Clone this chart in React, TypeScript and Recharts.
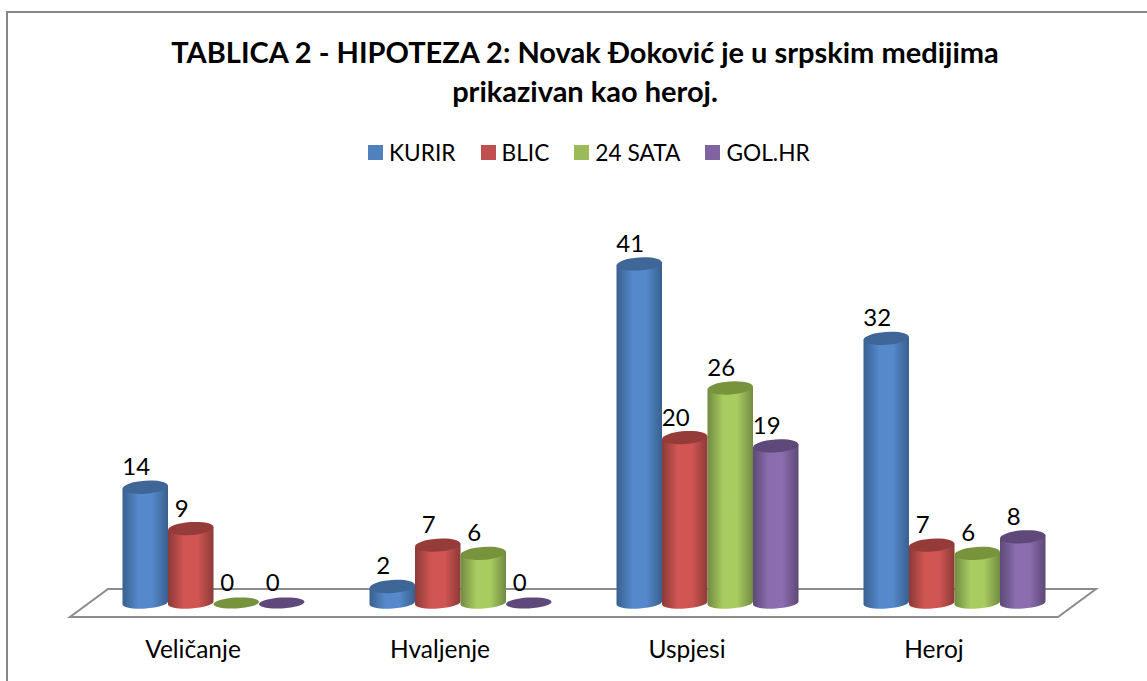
import { BarChart, Bar, XAxis, YAxis, Legend, LabelList } from "recharts";

const categories = ["Veličanje", "Hvaljenje", "Uspjesi", "Heroj"];
const kurir = [14, 2, 41, 32];
const blic = [9, 7, 20, 7];
const sata24 = [0, 6, 26, 6];
const golHr = [0, 0, 19, 8];

const data = categories.map((name, i) => ({
    name,
    KURIR: kurir[i],
    BLIC: blic[i],
    "24 SATA": sata24[i],
    "GOL.HR": golHr[i],
}));

const FONT = "Lato, 'Open Sans', sans-serif";

const series = [
    { key: "KURIR", id: "blue", fill: "#4f81bd", edge: "#38608f", mid: "#5589cb", top: "#3e6797" },
    { key: "BLIC", id: "red", fill: "#c0504d", edge: "#8c3a38", mid: "#d15653", top: "#953c3a" },
    { key: "24 SATA", id: "green", fill: "#9bbb59", edge: "#728a42", mid: "#a9cc61", top: "#77933c" },
    { key: "GOL.HR", id: "purple", fill: "#8064a2", edge: "#5d4976", mid: "#8b6db0", top: "#5f497a" },
];

function Cylinder(props: any) {
    const { x, y, width, height, id, top } = props;
    const rx = width / 2;
    const d = 1.6;
    const cx = x + rx;
    if (!height) {
        return <ellipse cx={cx} cy={y} rx={rx} ry={5.5} fill={top} transform={`rotate(-3 ${cx} ${y})`} />;
    }
    const bottom = y + height;
    return (
        <g>
            <path
                d={`M${x} ${y + d} L${x} ${bottom + d} A${rx} 5.5 -4 0 0 ${x + width} ${bottom - d} L${x + width} ${y - d} Z`}
                fill={`url(#cyl-${id})`}
            />
            <ellipse cx={cx} cy={y} rx={rx} ry={6.5} fill={top} transform={`rotate(-4 ${cx} ${y})`} />
        </g>
    );
}

function ValueLabel(props: any) {
    const { x, y, width, value } = props;
    return (
        <text x={x + width / 2 - 9} y={y - 12} textAnchor="middle" fontSize={24} fontFamily={FONT} fill="#000">
            {value}
        </text>
    );
}

function LegendRow(props: any) {
    return (
        <div style={{ display: "flex", alignItems: "center", fontFamily: FONT, fontSize: 22.7, color: "#000", whiteSpace: "nowrap" }}>
            {props.payload.map((entry: any) => (
                <div key={entry.value} style={{ display: "flex", alignItems: "center", marginRight: 25 }}>
                    <span style={{ width: 15, height: 15, background: entry.color, marginRight: 6 }} />
                    {entry.value}
                </div>
            ))}
        </div>
    );
}

export default function App() {
    return (
        <div style={{ position: "absolute", left: 0, top: 0, width: 1147, height: 681, overflow: "hidden", background: "#fff" }}>
            <BarChart
                width={1147}
                height={681}
                data={data}
                barSize={45.5}
                barGap={0}
                margin={{ top: 162.5, right: 69.5, bottom: 0, left: 89.5 }}
            >
                <defs>
                    {series.map((s) => (
                        <linearGradient key={s.id} id={`cyl-${s.id}`} x1="0" y1="0" x2="1" y2="0">
                            <stop offset="0%" stopColor={s.edge} />
                            <stop offset="35%" stopColor={s.mid} />
                            <stop offset="65%" stopColor={s.mid} />
                            <stop offset="100%" stopColor={s.edge} />
                        </linearGradient>
                    ))}
                </defs>
                <path d="M7 720 L7 12 L1147 12" fill="none" stroke="#868686" strokeWidth={2} />
                <polygon points="70,617 1058,617 1096,589 108,589" fill="#fff" stroke="#8c8c8c" strokeWidth={2} />
                <text x={585} y={63} textAnchor="middle" fontSize={29} fontWeight={700} fontFamily={FONT} fill="#000">
                    TABLICA 2 - HIPOTEZA 2: Novak Đoković je u srpskim medijima
                </text>
                <text x={585} y={102} textAnchor="middle" fontSize={29} fontWeight={700} fontFamily={FONT} fill="#000">
                    prikazivan kao heroj.
                </text>
                <XAxis
                    dataKey="name"
                    height={78}
                    axisLine={false}
                    tickLine={false}
                    interval={0}
                    tickMargin={32}
                    tick={{ fontSize: 24.5, fontFamily: FONT, fill: "#000", dx: -20 }}
                />
                <YAxis hide domain={[0, 50]} />
                <Legend
                    verticalAlign="top"
                    itemSorter={null}
                    content={<LegendRow />}
                    wrapperStyle={{ position: "absolute", left: 368, top: 139, width: "auto" }}
                />
                {series.map((s) => (
                    <Bar
                        key={s.key}
                        dataKey={s.key}
                        fill={s.fill}
                        isAnimationActive={false}
                        shape={(p: any) => <Cylinder {...p} id={s.id} top={s.top} />}
                    >
                        <LabelList dataKey={s.key} content={<ValueLabel />} />
                    </Bar>
                ))}
            </BarChart>
        </div>
    );
}
